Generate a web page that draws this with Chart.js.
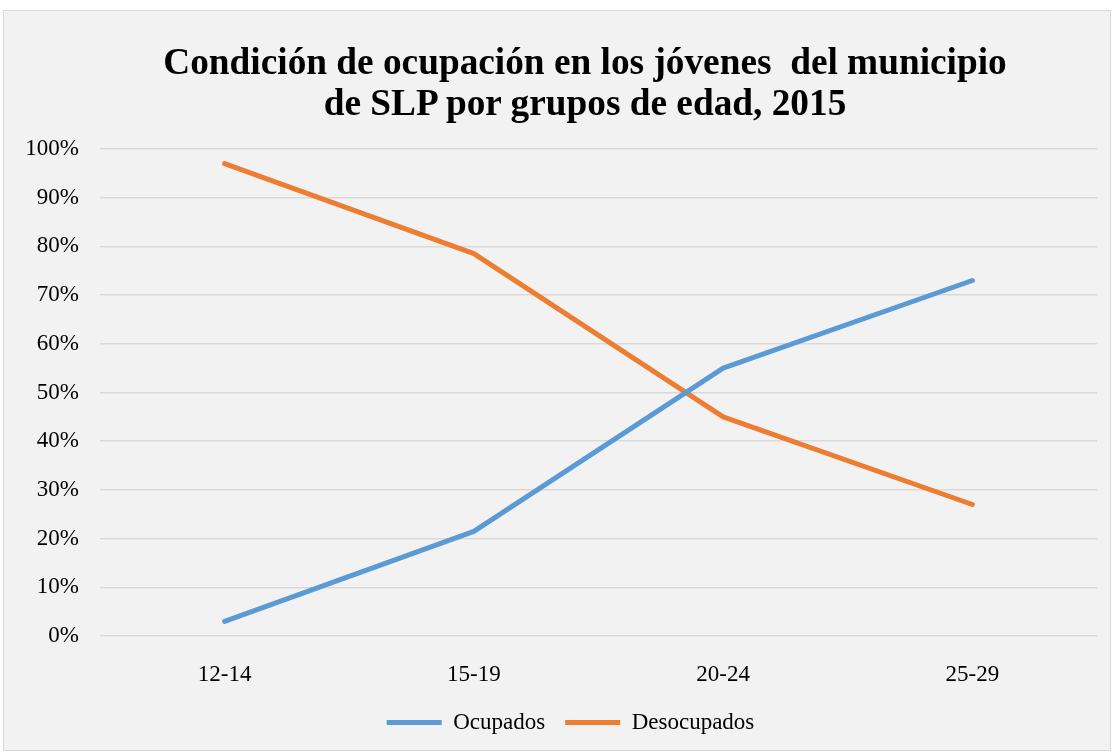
<!DOCTYPE html>
<html>
<head>
<meta charset="utf-8">
<script src="https://cdn.jsdelivr.net/npm/chart.js@4/dist/chart.umd.min.js"></script>
<style>
  html, body { margin: 0; padding: 0; background: #ffffff; }
  #frame {
    position: absolute; left: 3px; top: 10px; width: 1106px; height: 739px;
    background: #f2f2f2; border: 1px solid #d9d9d9;
  }
  #title {
    position: absolute; left: 0; top: 30px; width: 1162px; text-align: center;
    font-family: "Liberation Serif", "Times New Roman", serif; font-weight: bold;
    font-size: 37.3px; line-height: 41px; color: #000;
  }
  #chart { position: absolute; left: 0; top: 0; }
</style>
</head>
<body>
<div id="frame">
  <canvas id="chart" width="1106" height="739"></canvas>
  <div id="title">Condición de ocupación en los jóvenes&nbsp; del municipio<br>de SLP por grupos de edad, 2015</div>
</div>
<script>
const categories = ["12-14", "15-19", "20-24", "25-29"];
const ocupados = [3, 21.5, 55, 73];
const desocupados = [97, 78.5, 45, 27];
const yTicks = [0, 10, 20, 30, 40, 50, 60, 70, 80, 90, 100];

const FONT = "'Liberation Serif', 'Times New Roman', serif";

const legendShift = {
  id: 'legendShift',
  afterLayout(chart) {
    if (chart.legend) { chart.legend.left += 20; chart.legend.right += 20; }
  }
};

new Chart(document.getElementById('chart'), {
  type: 'line',
  data: {
    labels: categories,
    datasets: [
      { label: 'Ocupados', data: ocupados, borderColor: '#5b9bd5', backgroundColor: '#5b9bd5',
        borderWidth: 5, borderCapStyle: 'round', borderJoinStyle: 'round', pointRadius: 0, tension: 0 },
      { label: 'Desocupados', data: desocupados, borderColor: '#ed7d31', backgroundColor: '#ed7d31',
        borderWidth: 5, borderCapStyle: 'round', borderJoinStyle: 'round', pointRadius: 0, tension: 0 }
    ]
  },
  plugins: [legendShift],
  options: {
    responsive: false,
    animation: false,
    layout: { padding: { top: 138, right: 13, bottom: 6, left: 0 } },
    plugins: {
      legend: {
        position: 'bottom',
        labels: {
          usePointStyle: true, pointStyle: 'line', pointStyleWidth: 55,
          boxHeight: 23, color: '#000', padding: 20,
          font: { family: FONT, size: 23 }
        }
      },
      tooltip: { enabled: false },
      title: { display: false }
    },
    scales: {
      x: {
        offset: true,
        afterFit: (s) => { s.height = 55; },
        grid: { display: false, drawTicks: false },
        border: { display: false },
        ticks: { color: '#000', padding: 25, font: { family: FONT, size: 23 } }
      },
      y: {
        min: 0, max: 100,
        afterFit: (s) => { s.width = 96; },
        afterBuildTicks: (s) => { s.ticks = yTicks.map(v => ({ value: v })); },
        grid: { color: '#d9d9d9', lineWidth: 1.5, drawTicks: false },
        border: { display: false },
        ticks: { color: '#000', padding: 21, font: { family: FONT, size: 23 },
                 callback: (v) => v + '%' }
      }
    }
  }
});
</script>
</body>
</html>
